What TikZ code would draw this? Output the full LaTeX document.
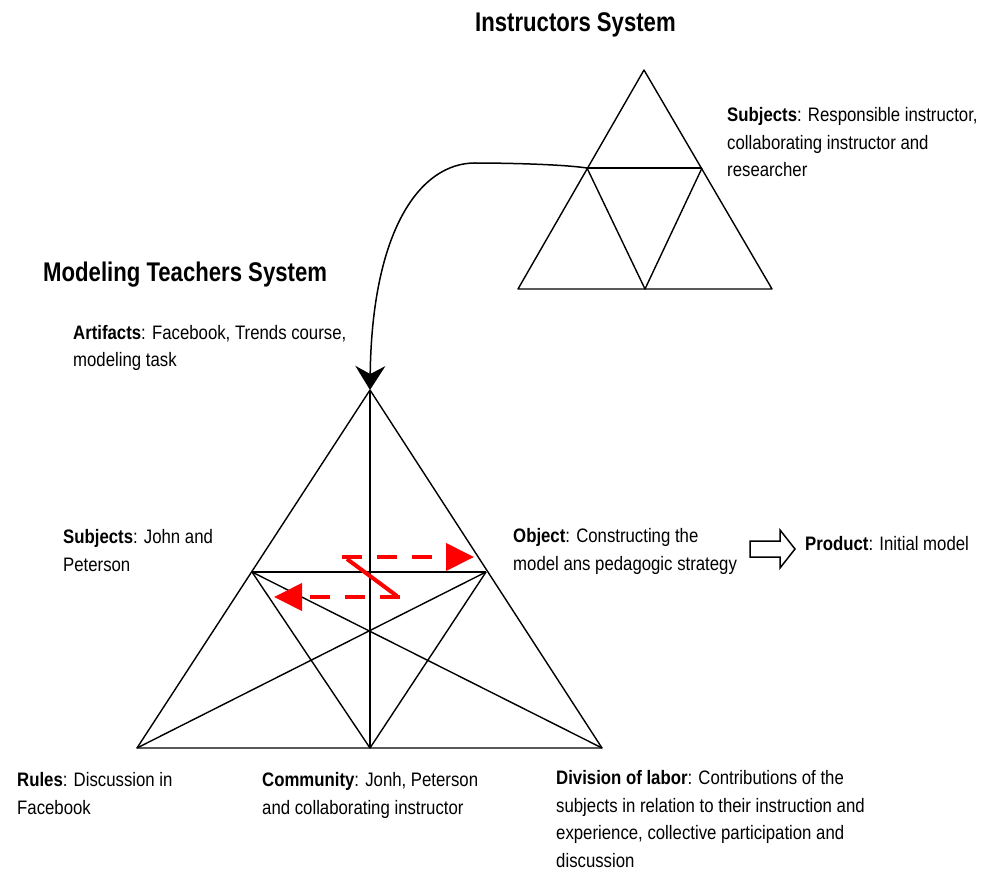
\documentclass[tikz,border=0pt]{standalone}
\usepackage{fontspec}
\setmainfont{Liberation Sans}[FakeStretch=0.82]
\newfontfamily\labelfont{Liberation Sans}[FakeStretch=0.86]
\usetikzlibrary{arrows.meta}

\begin{document}
\begin{tikzpicture}[x=1pt,y=-1pt,
  edge/.style={line width=1.4pt, line join=round},
  % multi-line labels are placed by the baseline of their last line
  lbl/.style={anchor=base west, inner sep=0pt, align=left, font=\labelfont\fontsize{19.5}{27.5}\selectfont},
  ttl/.style={anchor=base west, inner sep=0pt, font=\fontsize{27}{30}\selectfont\bfseries},
  flow/.style={red, line width=4pt, dash pattern=on 20pt off 15pt, -{Triangle[length=28pt,width=27pt]}},
  link/.style={line width=1.5pt, -{Stealth[length=24pt,width=30pt,inset=8pt]}},
  hollow/.style={line width=1.5pt, line join=miter, fill=white}]

\path[use as bounding box, fill=white] (0,0) rectangle (982,877);

% instructors' activity triangle
\coordinate (ia)  at (644,70);
\coordinate (ibl) at (518,289);
\coordinate (ibr) at (772,289);
\coordinate (iml) at (587,168);
\coordinate (imr) at (702,168);
\coordinate (imb) at (645,289);
\draw[edge] (ia) -- (ibl) -- (ibr) -- cycle;
\draw[edge] (iml) -- (imr);
\draw[edge] (iml) -- (imb) -- (imr);

% modeling teachers' activity triangle
\coordinate (ta)  at (370,390);
\coordinate (tbl) at (137,748);
\coordinate (tbr) at (602,748);
\coordinate (tml) at (252,572);
\coordinate (tmr) at (486,572);
\coordinate (tmb) at (370,748);
\draw[edge] (ta) -- (tbl) -- (tbr) -- cycle;
\draw[edge] (ta) -- (tmb);
\draw[edge] (tml) -- (tmr);
\draw[edge] (tml) -- (tmb) -- (tmr);
\draw[edge] (tbl) -- (tmr);
\draw[edge] (tbr) -- (tml);

% link between the two systems
\draw[link] (iml) .. controls (560,164) and (500,163) .. (475,163)
  .. controls (420,163) and (372,230) .. (ta);

% exchange between subjects and object
\coordinate (f1s) at (342,557);
\coordinate (f1e) at (474,557);
\coordinate (f2s) at (400,597);
\coordinate (f2e) at (274,597);
\coordinate (zs) at (347,559);
\coordinate (ze) at (397,596);
\draw[flow] (f1s) -- (f1e);
\draw[flow] (f2s) -- (f2e);
\draw[red, line width=4pt] (zs) -- (ze);

% object to product
\draw[hollow] (750,541) -- (780,541) -- (780,530) -- (795,549) -- (780,568)
  -- (780,557) -- (750,557) -- cycle;

% titles
\node[ttl] (tinst) at (475,32) {Instructors System};
\node[ttl] (tmod) at (43,282) {Modeling Teachers System};

% labels
\node[lbl] (isubj) at (727,177) {\textbf{Subjects}: Responsible instructor,\\collaborating instructor and\\researcher};
\node[lbl] (artif) at (73,366.5) {\textbf{Artifacts}: Facebook, Trends course,\\modeling task};
\node[lbl] (tsubj) at (63,571) {\textbf{Subjects}: John and\\Peterson};
\node[lbl] (obj) at (513,570) {\textbf{Object}: Constructing the\\model ans pedagogic strategy};
\node[lbl] (prod) at (805,550) {\textbf{Product}: Initial model};
\node[lbl] (rules) at (17,814) {\textbf{Rules}: Discussion in\\Facebook};
\node[lbl] (comm) at (262,814) {\textbf{Community}: Jonh, Peterson\\and collaborating instructor};
\node[lbl] (divl) at (556,867) {\textbf{Division of labor}: Contributions of the\\subjects in relation to their instruction and\\experience, collective participation and\\discussion};
\end{tikzpicture}
\end{document}
